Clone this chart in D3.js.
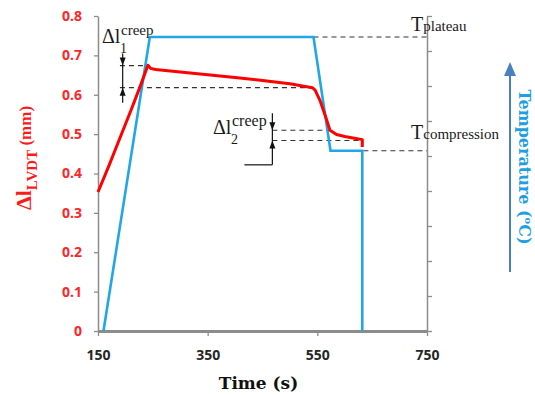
<!DOCTYPE html>
<html>
<head>
<meta charset="utf-8">
<style>
    body { margin: 0; background: #fff; }
    svg { display: block; }
    .axis .domain { stroke: #8c8c8c; }
    .axis .tick line { stroke: #8c8c8c; stroke-width: 1.3; }
    .yl .tick text { font-family: "Open Sans", sans-serif; font-weight: 700; font-size: 14px; fill: #ff2626; }
    .x .tick text { font-family: "Open Sans", sans-serif; font-weight: 700; font-size: 14px; fill: #262626; }
    .note { font-family: "Liberation Serif", serif; fill: #1a1a1a; }
</style>
</head>
<body>
<svg width="535" height="395"></svg>

<script src="https://d3js.org/d3.v7.min.js"></script>
<script>
// time ticks (s)
let timeTicks = [150, 350, 550, 750];
// left axis ticks (mm)
let lvdtTicks = [0, 0.1, 0.2, 0.3, 0.4, 0.5, 0.6, 0.7, 0.8];
// right axis ticks, no labels shown (arbitrary units)
let tempTicks = [0, 1, 2, 3, 4, 5, 6, 7, 8, 9];

// red curve: LVDT displacement
let lvdtTime  = [150, 170, 190, 210, 228, 241, 246, 255, 300, 350, 400, 450, 500, 541, 546, 555, 565, 573, 585, 600, 615, 632, 632];
let lvdtValue = [0.353, 0.42, 0.49, 0.56, 0.625, 0.675, 0.667, 0.664, 0.658, 0.651, 0.644, 0.636, 0.628, 0.618, 0.612, 0.585, 0.545, 0.51, 0.499, 0.494, 0.49, 0.486, 0.467];

// blue curve: temperature
let tempTime  = [160, 244.5, 543, 574, 632, 632];
let tempValue = [0, 8.4, 8.4, 5.15, 5.15, 0];

// levels used for the annotations
let tPlateau = 8.4, tCompression = 5.15;
let creep1 = [0.674, 0.618], creep2 = [0.51, 0.484];

let svg = d3.select("svg");

let x = d3.scaleLinear().domain([150, 750]).range([98, 427]);
let yL = d3.scaleLinear().domain([0, 0.8]).range([331, 16]);
let yR = d3.scaleLinear().domain([0, 9]).range([331, 16]);

// axes
svg.append("g")
    .attr("class", "axis yl")
    .attr("transform", `translate(${x(150)},0)`)
    .call(d3.axisLeft(yL).tickValues(lvdtTicks).tickSize(4).tickSizeOuter(0).tickPadding(12)
        .tickFormat(d => d === 0 ? "0" : d3.format(".1f")(d)))
    .select(".domain").attr("stroke-width", 1.5);

svg.append("g")
    .attr("class", "axis yr")
    .attr("transform", `translate(${x(750)},0)`)
    .call(d3.axisRight(yR).tickValues(tempTicks).tickSize(5).tickSizeOuter(0).tickFormat(""))
    .select(".domain").attr("stroke-width", 1.5);

svg.append("g")
    .attr("class", "axis x")
    .attr("transform", `translate(0,${yL(0)})`)
    .call(d3.axisBottom(x).tickValues(timeTicks).tickSize(5).tickSizeOuter(0).tickPadding(14))
    .select(".domain").attr("stroke-width", 3).attr("stroke", "#8a8a8a");

// dashed guide lines
let dash = svg.append("g").attr("stroke", "#333").attr("stroke-width", 1.1).attr("stroke-dasharray", "5,4");
let guides = [
    [190, 241, yL(creep1[0])],
    [190, 541, yL(creep1[1])],
    [468, 573, yL(creep2[0])],
    [468, 632, yL(creep2[1])],
    [543, 750, yR(tPlateau)],
    [634, 750, yR(tCompression)]
];
dash.selectAll("line").data(guides).join("line")
    .attr("x1", d => x(d[0])).attr("x2", d => x(d[1]))
    .attr("y1", d => d[2]).attr("y2", d => d[2]);

// lines
let line = d3.line().x(d => x(d[0])).y(d => d[1]);

svg.append("path")
    .datum(tempTime.map((t, i) => [t, yR(tempValue[i])]))
    .attr("d", line)
    .attr("fill", "none")
    .attr("stroke", "#21a6e8")
    .attr("stroke-width", 2.6);

svg.append("path")
    .datum(lvdtTime.map((t, i) => [t, yL(lvdtValue[i])]))
    .attr("d", line)
    .attr("fill", "none")
    .attr("stroke", "#ff0000")
    .attr("stroke-width", 3)
    .attr("stroke-linejoin", "round");

// creep brackets with arrows
function arrowHead(g, cx, tipY, dir) {
    g.append("path")
        .attr("d", `M${cx},${tipY} L${cx - 3},${tipY - dir * 8} L${cx + 3},${tipY - dir * 8} Z`)
        .attr("fill", "#111");
}
let ann = svg.append("g").attr("stroke", "#111").attr("stroke-width", 1.2);

let ax1 = x(195);
ann.append("line").attr("x1", ax1).attr("x2", ax1).attr("y1", yL(0.705)).attr("y2", yL(0.58));
arrowHead(svg, ax1, yL(creep1[0]), 1);
arrowHead(svg, ax1, yL(creep1[1]), -1);

let ax2 = x(468);
ann.append("line").attr("x1", ax2).attr("x2", ax2).attr("y1", yL(0.553)).attr("y2", yL(0.422));
ann.append("line").attr("x1", x(417)).attr("x2", ax2).attr("y1", yL(0.422)).attr("y2", yL(0.422));
arrowHead(svg, ax2, yL(creep2[0]), 1);
arrowHead(svg, ax2, yL(creep2[1]), -1);

// creep labels
function creepLabel(px, py, sub, supSize) {
    svg.append("text").attr("class", "note").attr("x", px).attr("y", py).attr("font-size", 20).text("Δl");
    let xs = px + 19;
    svg.append("text").attr("class", "note").attr("x", xs).attr("y", py - 8)
        .attr("font-size", supSize).text("creep");
    svg.append("text").attr("class", "note").attr("x", xs - 1).attr("y", py + 10)
        .attr("font-size", 14).text(sub);
}
creepLabel(102, 43, "1", 15);
creepLabel(213, 134, "2", 16);

// temperature level labels
function tLabel(py, word) {
    let t = svg.append("text").attr("class", "note").attr("x", 411).attr("y", py);
    t.append("tspan").attr("font-size", 20).text("T");
    t.append("tspan").attr("font-size", 15).text(word);
}
tLabel(yR(tPlateau) - 6, "plateau");
tLabel(yR(tCompression) - 12, "compression");

// axis titles
svg.append("text")
    .attr("x", x(450) - 4)
    .attr("y", 389)
    .attr("text-anchor", "middle")
    .attr("font-family", "DejaVu Serif, serif")
    .attr("font-weight", 700)
    .attr("font-size", 17)
    .attr("fill", "#111")
    .text("Time (s)");

let yTitle = svg.append("text")
    .attr("transform", "translate(31,158) rotate(-90)")
    .attr("text-anchor", "middle")
    .attr("font-family", "Liberation Serif, serif")
    .attr("font-weight", 700)
    .attr("fill", "#ff1a1a");
yTitle.append("tspan").attr("font-size", 22).text("Δl");
yTitle.append("tspan").attr("font-size", 15).attr("dy", 6).text("LVDT");
yTitle.append("tspan").attr("font-size", 17).attr("dy", -6).text(" (mm)");

// temperature arrow and title
svg.append("line")
    .attr("x1", 510).attr("x2", 510).attr("y1", 272).attr("y2", 74)
    .attr("stroke", "#4a7fc1").attr("stroke-width", 2);
svg.append("path")
    .attr("d", "M510,62 L504,76 L516,76 Z")
    .attr("fill", "#4a7fc1");

let tTitle = svg.append("text")
    .attr("transform", "translate(519,167) rotate(90)")
    .attr("text-anchor", "middle")
    .attr("font-family", "DejaVu Serif, serif")
    .attr("font-weight", 700)
    .attr("font-size", 16)
    .attr("fill", "#1c9fe3");
tTitle.append("tspan").text("Temperature (");
tTitle.append("tspan").attr("font-size", 10).attr("dy", -6).text("o");
tTitle.append("tspan").attr("dy", 6).text("C)");
</script>
</body>
</html>
